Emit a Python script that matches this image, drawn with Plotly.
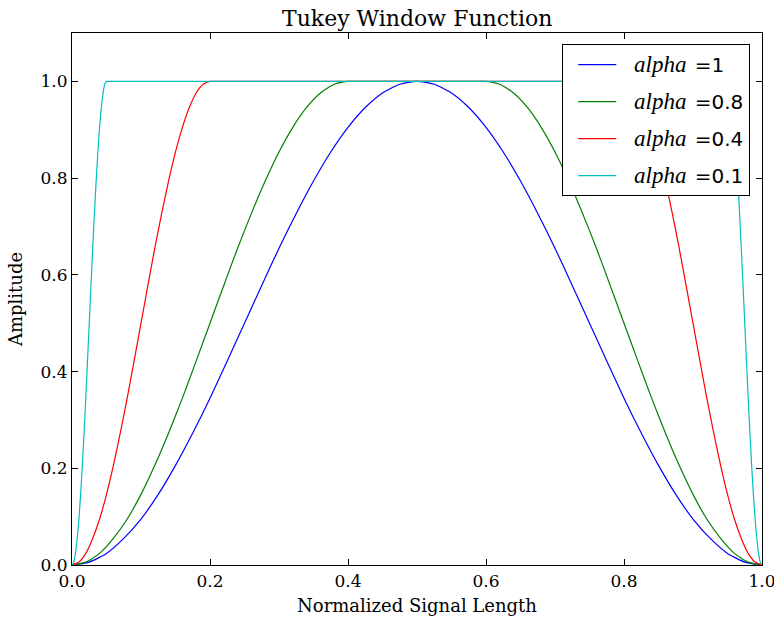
import plotly.graph_objects as go

# ---- data ----
x_a1 = [0, .025, .05, .075, .1, .125, .15, .175, .2, .225, .25, .275, .3, .325, .35, .375, .4, .425, .45, .475, .5,
        .525, .55, .575, .6, .625, .65, .675, .7, .725, .75, .775, .8, .825, .85, .875, .9, .925, .95, .975, 1.0]
y_a1 = [0, .006, .024, .055, .095, .146, .206, .273, .345, .422, .5, .578, .655, .727, .794, .854, .905, .946, .976, .994, 1.0,
        .994, .976, .946, .905, .854, .794, .727, .655, .578, .5, .422, .345, .273, .206, .146, .095, .055, .024, .006, 0]

x_a08 = [0, .02, .04, .06, .08, .1, .12, .14, .16, .18, .2, .22, .24, .26, .28, .3, .32, .34, .36, .38, .4, .42,
         .58, .6, .62, .64, .66, .68, .7, .72, .74, .76, .78, .8, .82, .84, .86, .88, .9, .92, .94, .96, .98, 1.0]
y_a08 = [0, .006, .024, .055, .095, .146, .206, .273, .345, .422, .5, .578, .655, .727, .794, .854, .905, .946, .976, .994, 1.0, 1.0,
         1.0, 1.0, .994, .976, .946, .905, .854, .794, .727, .655, .578, .5, .422, .345, .273, .206, .146, .095, .055, .024, .006, 0]

x_a04 = [0, .01, .02, .03, .04, .05, .06, .07, .08, .09, .1, .11, .12, .13, .14, .15, .16, .17, .18, .19, .2, .21,
         .79, .8, .81, .82, .83, .84, .85, .86, .87, .88, .89, .9, .91, .92, .93, .94, .95, .96, .97, .98, .99, 1.0]
y_a04 = [0, .006, .024, .055, .095, .146, .206, .273, .345, .422, .5, .578, .655, .727, .794, .854, .905, .946, .976, .994, 1.0, 1.0,
         1.0, 1.0, .994, .976, .946, .905, .854, .794, .727, .655, .578, .5, .422, .345, .273, .206, .146, .095, .055, .024, .006, 0]

x_a01 = [0, .0025, .005, .0075, .01, .0125, .015, .0175, .02, .0225, .025, .0275, .03, .0325, .035, .0375, .04, .0425, .045, .0475, .05, .0525,
         .9475, .95, .9525, .955, .9575, .96, .9625, .965, .9675, .97, .9725, .975, .9775, .98, .9825, .985, .9875, .99, .9925, .995, .9975, 1.0]
y_a01 = [0, .006, .024, .055, .095, .146, .206, .273, .345, .422, .5, .578, .655, .727, .794, .854, .905, .946, .976, .994, 1.0, 1.0,
         1.0, 1.0, .994, .976, .946, .905, .854, .794, .727, .655, .578, .5, .422, .345, .273, .206, .146, .095, .055, .024, .006, 0]

labels = ["1", "0.8", "0.4", "0.1"]
colors = ["#0000ff", "#008000", "#ff0000", "#00bfbf"]
series = [(x_a1, y_a1), (x_a08, y_a08), (x_a04, y_a04), (x_a01, y_a01)]

fig = go.Figure()
for i, ((xs, ys), lab, col) in enumerate(zip(series, labels, colors)):
    fig.add_trace(go.Scatter(
        x=xs, y=ys, mode="lines",
        line=dict(color=col, width=1.2, shape="spline", smoothing=0.6),
        name="&nbsp;&nbsp;<span style='font-family:Liberation Serif;font-size:23px'><i>alpha</i></span> &#8202;=" + lab,
        legendgroup=f"g{i}",
    ))

serif = "DejaVu Serif"
fig.update_layout(
    width=774, height=620,
    margin=dict(l=72, r=12, t=33, b=55),
    paper_bgcolor="white", plot_bgcolor="white",
    title=dict(text="Tukey Window Function", x=0.539, xanchor="center", y=0.97, yanchor="middle",
               font=dict(family=serif, size=22, color="black")),
    font=dict(family=serif, size=17, color="black"),
    legend=dict(
        x=0.983, xanchor="right", y=0.979, yanchor="top",
        bgcolor="white", bordercolor="black", borderwidth=1,
        font=dict(family="DejaVu Sans", size=20, color="black"),
        traceorder="grouped", tracegroupgap=8, itemwidth=38, indentation=10,
    ),
    xaxis=dict(
        range=[0, 1], tickvals=[0, .2, .4, .6, .8, 1.0], ticktext=["0.0", "0.2", "0.4", "0.6", "0.8", "1.0"],
        ticks="inside", ticklen=6, tickcolor="black", showline=True, linecolor="black", linewidth=1.2,
        mirror="ticks", showgrid=False, zeroline=False, automargin=False, ticklabeloverflow="allow",
        title=dict(text="Normalized Signal Length", font=dict(family=serif, size=18), standoff=9),
        tickfont=dict(family=serif, size=17),
    ),
    yaxis=dict(
        range=[0, 1.1], tickvals=[0, .2, .4, .6, .8, 1.0], ticktext=["0.0", "0.2", "0.4", "0.6", "0.8", "1.0"],
        ticks="inside", ticklen=6, tickcolor="black", showline=True, linecolor="black", linewidth=1.2,
        mirror="ticks", showgrid=False, zeroline=False, automargin=False, ticklabeloverflow="allow",
        title=dict(text="Amplitude", font=dict(family=serif, size=18), standoff=13),
        tickfont=dict(family=serif, size=17),
    ),
)

fig.write_html("out.html")
